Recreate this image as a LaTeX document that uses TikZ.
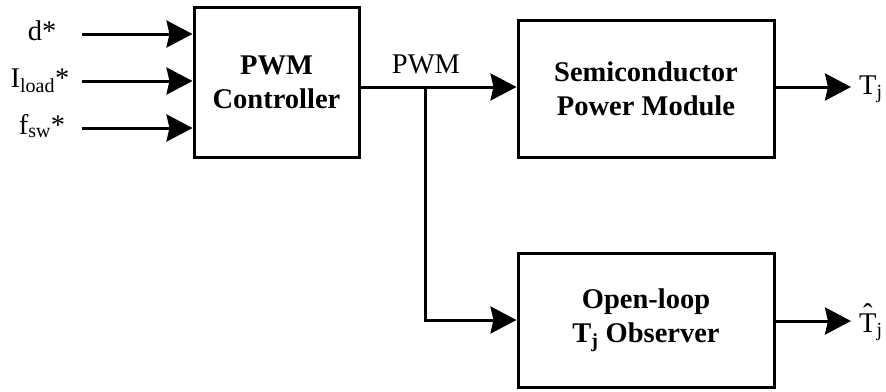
\documentclass[tikz,border=0pt]{standalone}
\usepackage{fontspec}
\setmainfont{Liberation Serif}
\usetikzlibrary{arrows.meta}
% T with a circumflex set well above it
\newcommand{\hatT}{\ooalign{T\cr\hidewidth\raisebox{0.3em}{\char"02C6}\hidewidth\cr}}
\begin{document}
\begin{tikzpicture}[x=1pt,y=-1pt,
  blk/.style={draw,line width=3pt,align=center,inner sep=0pt,
    font=\bfseries\fontsize{28.5}{34}\selectfont},
  wire/.style={line width=3pt},
  sig/.style={wire,-{Stealth[length=26pt,width=27pt,inset=3pt]}},
  lbl/.style={font=\fontsize{28.5}{32}\selectfont,inner sep=0pt}]
\useasboundingbox (0,0) rectangle (886,391);

% blocks
\node[blk,minimum width=165pt,minimum height=150pt] (ctrl) at (276.5,82) {PWM\\Controller};
\node[blk,minimum width=256pt,minimum height=137pt] (sem) at (646,88.5) {Semiconductor\\Power Module};
\node[blk,minimum width=256pt,minimum height=134pt] (obs) at (646,320) {Open-loop\\T\textsubscript{j} Observer};

% reference inputs
\coordinate (i1) at (82,34);
\coordinate (i2) at (82,81);
\coordinate (i3) at (82,128);
\node[lbl,anchor=base] (ld) at (42,40) {d*};
\node[lbl,anchor=base] (li) at (40,87) {I\textsubscript{load}*};
\node[lbl,anchor=base] (lf) at (42,134) {f\textsubscript{sw}*};
\draw[sig] (i1) -- (i1 -| ctrl.west);
\draw[sig] (i2) -- (i2 -| ctrl.west);
\draw[sig] (i3) -- (i3 -| ctrl.west);

% PWM signal and branch
\coordinate (br) at (425,87);
\node[lbl,anchor=base] (lpwm) at (426,73) {PWM};
\draw[wire] (ctrl.east |- br) -- (br);
\draw[sig] (br) -- (sem.west |- br);
\draw[sig] (br) |- (obs.west);

% outputs
\coordinate (o1) at (851,87);
\coordinate (o2) at (851,321);
\draw[sig] (sem.east |- o1) -- (o1);
\draw[sig] (obs.east |- o2) -- (o2);
\node[lbl,anchor=base west] (tj) at (859,94) {T\textsubscript{j}};
\node[lbl,anchor=base west] (tjh) at (859,332) {\hatT\textsubscript{j}};
\end{tikzpicture}
\end{document}
